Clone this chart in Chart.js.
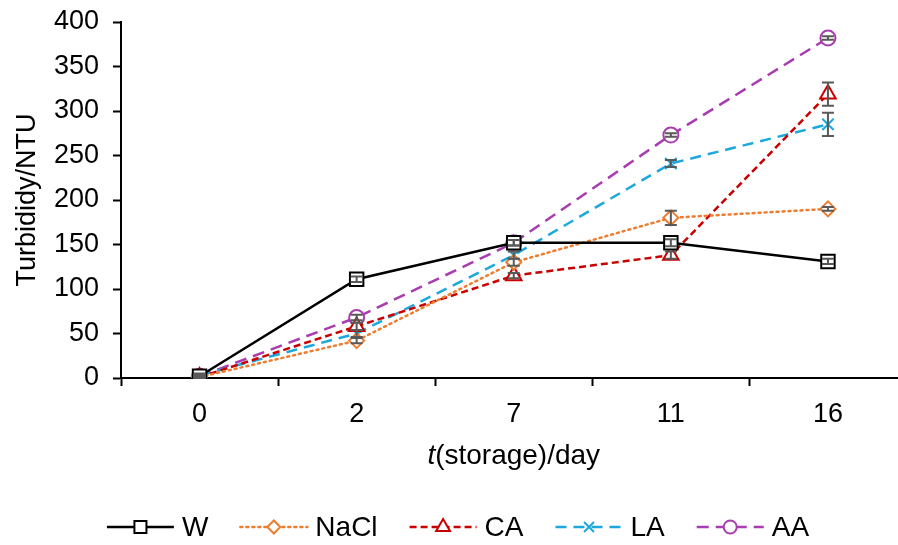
<!DOCTYPE html>
<html>
<head>
<meta charset="utf-8">
<script src="https://cdn.jsdelivr.net/npm/chart.js@4.4.1/dist/chart.umd.min.js"></script>
<style>
  html, body { margin: 0; padding: 0; background: #fff; overflow: hidden; }
  #wrap { width: 898px; height: 545px; overflow: hidden; }
</style>
</head>
<body>
<div id="wrap"><canvas id="turbChart" width="918" height="545"></canvas></div>
<script>
// ==========================
// DADOS DO GRÁFICO
// ==========================
const days = ["0", "2", "7", "11", "16"]
const yTicks = [0, 50, 100, 150, 200, 250, 300, 350, 400]

const wValues = [2, 111, 152, 152, 131]
const naclValues = [1, 42, 130, 180, 190]
const caValues = [1, 58, 115, 138, 319]
const laValues = [3, 50, 138, 241, 285]
const aaValues = [2, 68, 152, 273, 382]

// barras de erro (desvio)
const wErr = [2, 3, 3, 4, 3]
const naclErr = [1, 3, 4, 8, 2]
const caErr = [1, 4, 3, 4, 13]
const laErr = [2, 4, 4, 4, 13]
const aaErr = [1, 3, 3, 2, 2]

const FONT = "'Liberation Sans', Arial, sans-serif"

// estilos de cada série
const series = [
  { label: "W", data: wValues, err: wErr, color: "#000000", dash: [], style: "rect", radius: 9.5, cap: "butt" },
  { label: "NaCl", data: naclValues, err: naclErr, color: "#ED7D31", dash: [2, 4], style: "rectRot", radius: 7.5, cap: "round" },
  { label: "CA", data: caValues, err: caErr, color: "#C80000", dash: [7, 4], style: "triangle", radius: 9, cap: "butt" },
  { label: "LA", data: laValues, err: laErr, color: "#1CA8DD", dash: [11, 7], style: "crossRot", radius: 8, cap: "butt" },
  { label: "AA", data: aaValues, err: aaErr, color: "#A83CB0", dash: [12, 7], style: "circle", radius: 7.5, cap: "butt" },
]

// ==========================
// PLUGIN: barras de erro, título do eixo X e legenda
// ==========================
const extrasPlugin = {
  id: "extras",
  afterDatasetsDraw(chart) {
    const ctx = chart.ctx
    const x = chart.scales.x
    const y = chart.scales.y
    ctx.save()
    ctx.strokeStyle = "#595959"
    ctx.lineWidth = 2
    series.forEach((s) => {
      s.data.forEach((v, i) => {
        const px = x.getPixelForValue(i)
        const top = y.getPixelForValue(v + s.err[i])
        const bot = y.getPixelForValue(v - s.err[i])
        ctx.beginPath()
        ctx.moveTo(px, top); ctx.lineTo(px, bot)
        ctx.moveTo(px - 6, top); ctx.lineTo(px + 6, top)
        ctx.moveTo(px - 6, bot); ctx.lineTo(px + 6, bot)
        ctx.stroke()
      })
    })
    ctx.restore()
  },
  afterDraw(chart) {
    const ctx = chart.ctx
    const area = chart.chartArea
    ctx.save()
    // título do eixo X com "t" em itálico
    ctx.fillStyle = "#000"
    ctx.textBaseline = "middle"
    const italic = "italic 28px " + FONT
    const normal = "28px " + FONT
    ctx.font = italic
    const wT = ctx.measureText("t").width
    ctx.font = normal
    const wRest = ctx.measureText("(storage)/day").width
    const tx = (area.left + area.right) / 2 - (wT + wRest) / 2
    const ty = 456
    ctx.font = italic
    ctx.fillText("t", tx, ty)
    ctx.font = normal
    ctx.fillText("(storage)/day", tx + wT, ty)

    // legenda desenhada à mão (linha + marcador)
    const lineLen = 67, gapText = 8, gapItem = 32, ly = 527
    ctx.font = "28px " + FONT
    const widths = series.map((s) => lineLen + gapText + ctx.measureText(s.label).width)
    const total = widths.reduce((a, b) => a + b, 0) + gapItem * (series.length - 1)
    let lx = 458 - total / 2
    series.forEach((s, i) => {
      ctx.save()
      ctx.strokeStyle = s.color
      ctx.lineWidth = 2.5
      ctx.lineCap = s.cap
      ctx.setLineDash(s.dash)
      ctx.beginPath()
      ctx.moveTo(lx, ly); ctx.lineTo(lx + lineLen, ly)
      ctx.stroke()
      ctx.restore()
      ctx.save()
      ctx.strokeStyle = s.color
      ctx.fillStyle = "#fff"
      ctx.lineWidth = 2
      Chart.helpers.drawPoint(ctx, { pointStyle: s.style, radius: s.radius - 1, rotation: 0, borderWidth: 2 }, lx + lineLen / 2, ly)
      ctx.restore()
      ctx.fillStyle = "#000"
      ctx.textBaseline = "middle"
      ctx.fillText(s.label, lx + lineLen + gapText, ly + 1)
      lx += widths[i] + gapItem
    })
    ctx.restore()
  },
}

// ==========================
// GRÁFICO DE TURBIDEZ
// ==========================
const ctx = document.getElementById("turbChart").getContext("2d")

const turbChart = new Chart(ctx, {
  type: "line",
  data: {
    labels: days,
    datasets: series.map((s) => ({
      label: s.label,
      data: s.data,
      borderColor: s.color,
      borderWidth: 2.5,
      borderDash: s.dash,
      borderCapStyle: s.cap,
      tension: 0,
      fill: false,
      pointStyle: s.style,
      pointRadius: s.radius,
      pointBorderWidth: 2,
      pointBorderColor: s.color,
      pointBackgroundColor: "#ffffff",
    })),
  },
  options: {
    responsive: false,
    animation: false,
    layout: { padding: { top: 22, left: 0, right: 0, bottom: 0 } },
    plugins: {
      legend: { display: false },
      tooltip: { enabled: false },
    },
    scales: {
      x: {
        offset: true,
        afterFit: (axis) => { axis.height = 167 },
        grid: {
          offset: true,
          drawOnChartArea: false,
          drawTicks: true,
          tickLength: 8,
          tickWidth: 2,
          tickColor: "#000",
        },
        border: { color: "#000", width: 2 },
        ticks: { color: "#000", font: { family: FONT, size: 27 }, padding: 12, maxRotation: 0 },
      },
      y: {
        min: 0,
        max: 400,
        afterFit: (axis) => {
          axis.width = 121
          axis.paddingTop = 0
          axis.paddingBottom = 0
        },
        afterBuildTicks: (axis) => { axis.ticks = yTicks.map((v) => ({ value: v })) },
        grid: {
          drawOnChartArea: false,
          drawTicks: true,
          tickLength: 8,
          tickWidth: 2,
          tickColor: "#000",
        },
        border: { color: "#000", width: 2 },
        ticks: { color: "#000", font: { family: FONT, size: 27 }, padding: 14 },
        title: {
          display: true,
          text: "Turbididy/NTU",
          color: "#000",
          font: { family: FONT, size: 27 },
          padding: { top: 11, bottom: 0 },
        },
      },
    },
  },
  plugins: [extrasPlugin],
})
</script>
</body>
</html>
